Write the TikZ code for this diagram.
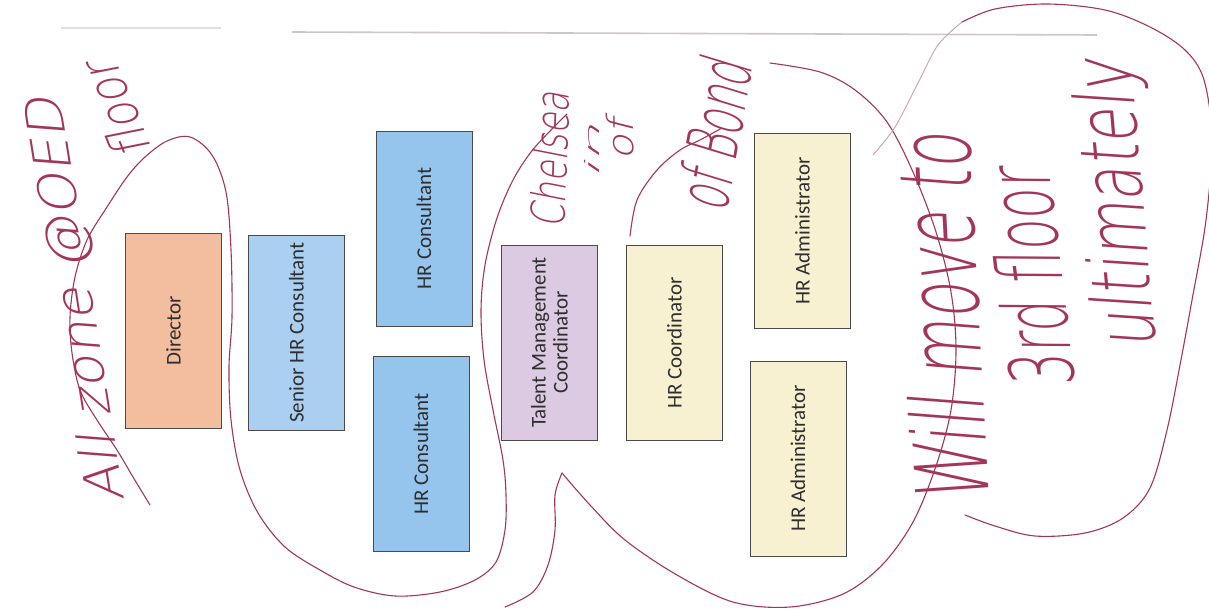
\documentclass[tikz,border=0pt]{standalone}
\usepackage{fontspec}
\usepackage{graphicx}
\newfontfamily\boxfont{Carlito}
\newfontfamily\handfont{DejaVu Sans ExtraLight}[FakeSlant=0.22]
\definecolor{pen}{HTML}{A3345A}
\definecolor{penlight}{HTML}{C9A0AE}
\definecolor{boxline}{HTML}{4A4A4A}
\definecolor{boxtext}{HTML}{2E2E2E}
\definecolor{cdir}{HTML}{F3BEA0}
\definecolor{csen}{HTML}{AACFF0}
\definecolor{chrc}{HTML}{95C5EC}
\definecolor{ctmc}{HTML}{DCCAE2}
\definecolor{cyel}{HTML}{F8F1D1}
\definecolor{topline}{HTML}{CFC6C8}
\begin{document}
\begin{tikzpicture}[x=1pt,y=-1pt,
  box/.style={draw=boxline, line width=0.9pt, rotate=90, inner sep=0pt,
    font=\boxfont\fontsize{21}{22}\selectfont, text=boxtext, align=center,
    minimum width=195pt, minimum height=96pt},
  pen/.style={draw=pen, line width=1.1pt, line cap=round, line join=round},
  penthin/.style={draw=penlight, line width=0.9pt, line cap=round, line join=round},
  hand/.style={text=pen, inner sep=0pt, font=\handfont}]
\useasboundingbox (0,0) rectangle (1209,613);
\fill[white] (0,0) rectangle (1209,613);
\clip (0,0) rectangle (1209,613);

% faint top rule
\draw[topline!60, line width=1.4pt] (61,28) -- (221,28);
\draw[topline, line width=1.6pt] (292,32) -- (1097,35);

% boxes
\node[box, fill=cdir] (dir) at (173.5,331) {Director};
\node[box, fill=csen] (sen) at (296.5,332.5) {Senior HR Consultant};
\node[box, fill=chrc] (hrc1) at (424,228.5) {HR Consultant};
\node[box, fill=chrc] (hrc2) at (421,454) {HR Consultant};
\node[box, fill=ctmc] (tmc) at (549.5,342.5) {Talent Management\\Coordinator};
\node[box, fill=cyel] (hrco) at (674.5,343) {HR Coordinator};
\node[box, fill=cyel] (hra1) at (802.5,231) {HR Administrator};
\node[box, fill=cyel] (hra2) at (798,458.5) {HR Administrator};

% hand-drawn outlines
\draw[pen] plot[smooth, tension=0.55] coordinates {(150,505) (133,477) (117,450) (97,420) (80,390) (72,353) (70,317) (75,277) (87,240) (107,207) (127,177) (145,157) (167,141) (190,137) (212,155) (226,192) (231,250) (232,317) (229,367) (231,420) (240,470) (258,513) (285,547) (320,570) (354,587) (395,596) (440,592) (475,580) (496,562) (505,530) (506,495) (503,460) (493,410) (484,360) (481,310) (485,265) (497,218) (513,180) (531,152) (551,130) (567,114)};
\draw[pen] plot[smooth, tension=0.55] coordinates {(630,236) (637,200) (657,170) (680,150) (700,140) (722,128)};
\draw[pen] plot[smooth, tension=0.55] coordinates {(770,63) (820,72) (855,90) (887,122) (913,172) (936,232) (951,292) (956,350) (951,410) (936,466) (913,522) (882,565) (843,594) (790,607) (733,602) (677,575) (625,540) (590,505) (562,473)};
\draw[pen] plot[smooth, tension=0.55] coordinates {(562,473) (555,495) (555,530) (548,565) (533,592) (505,607)};
\draw[penthin] plot[smooth, tension=0.55] coordinates {(873,155) (895,127) (918,83) (938,45) (962,22)};
\draw[pen] plot[smooth, tension=0.55] coordinates {(962,22) (995,9) (1047,4) (1105,10) (1150,27) (1185,50) (1204,80) (1212,140) (1206,220) (1192,300) (1180,365) (1167,430) (1150,488) (1123,518) (1085,533) (1035,536) (995,526) (965,515)};

% handwriting
\node[hand, rotate=99] (hw1) at (78,300) {\resizebox*{410pt}{48pt}{All zone @OED}};
\node[hand, rotate=112] (hw2) at (116,110) {\resizebox*{100pt}{40pt}{floor}};
\node[hand, rotate=88] (hw3) at (550,160) {\resizebox*{135pt}{36pt}{Chelsea}};
\node[hand, rotate=90] (hw4) at (592,152) {\resizebox*{55pt}{15pt}{in}};
\node[hand, rotate=90] (hw5) at (620,140) {\resizebox*{40pt}{28pt}{of}};
\node[hand, rotate=80] (hw6) at (714,135) {\resizebox*{150pt}{55pt}{of Bond}};
\node[hand, rotate=93] (hw7) at (942,320) {\resizebox*{370pt}{78pt}{Will move to}};
\node[hand, rotate=97] (hw8) at (1030,280) {\resizebox*{220pt}{68pt}{3rd floor}};
\node[hand, rotate=95] (hw9) at (1120,205) {\resizebox*{290pt}{78pt}{ultimately}};
\end{tikzpicture}
\end{document}
